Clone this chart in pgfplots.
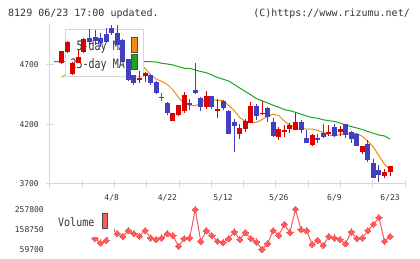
\documentclass[border=0pt]{standalone}
\usepackage{graphicx}
\usepackage{pgfplots}
\pgfplotsset{compat=1.18}
\usepackage{pgfplotstable}
\usepackage{fontspec}
\setmainfont{DejaVu Sans Mono}
\newfontfamily\mono{DejaVu Sans Mono}
\definecolor{candleup}{RGB}{221,0,0}
\definecolor{candledn}{RGB}{64,64,192}
\definecolor{ma5}{RGB}{240,140,20}
\definecolor{ma25}{RGB}{30,165,30}
\definecolor{axgray}{RGB}{215,215,215}
\definecolor{txt}{RGB}{51,51,51}
\definecolor{vol}{RGB}{250,90,90}

\pgfplotstableread{
x o h l c
0 4710 4813 4708 4813
1 4802 4895 4800 4891
2 4618 4720 4612 4715
3 4715 4827 4712 4765
4 4807 4920 4800 4913
14 4570 4648 4548 4590
15 4604 4640 4556 4626
20 4230 4297 4225 4292
21 4277 4365 4269 4361
22 4313 4472 4292 4445
26 4342 4481 4325 4436
28 4313 4409 4250 4328
32 4118 4200 4079 4166
33 4160 4244 4138 4227
34 4213 4389 4210 4353
36 4283 4395 4280 4297
39 4097 4181 4064 4163
40 4135 4194 4093 4148
41 4160 4208 4124 4190
42 4154 4292 4150 4221
45 4026 4121 4020 4110
48 4118 4190 4102 4133
50 4135 4187 4102 4163
54 3968 4020 3947 4018
58 3767 3826 3748 3803
59 3803 3851 3767 3851
}\uptable

\pgfplotstableread{
x o h l c
5 4919 4995 4863 4891
6 4933 4989 4863 4899
7 4919 4964 4846 4882
8 4955 5003 4880 4891
9 5003 5031 4947 4966
10 4966 5031 4860 4863
11 4905 4910 4720 4723
12 4743 4745 4565 4570
13 4612 4615 4528 4548
16 4612 4620 4528 4543
17 4556 4560 4453 4464
18 4431 4459 4397 4420
19 4380 4385 4275 4292
23 4380 4409 4319 4361
24 4487 4710 4451 4459
25 4417 4431 4313 4347
27 4436 4440 4330 4347
29 4395 4400 4319 4338
30 4311 4319 4115 4118
31 4221 4241 3970 4188
35 4353 4367 4236 4269
37 4338 4347 4221 4263
38 4221 4250 4096 4102
43 4219 4236 4129 4156
44 4085 4149 4041 4043
46 4082 4118 4043 4068
47 4124 4205 4082 4096
49 4177 4202 4096 4102
51 4202 4205 4082 4114
52 4135 4146 4047 4074
53 4121 4130 4020 4022
55 4035 4068 3880 3898
56 3878 3905 3746 3754
57 3817 3859 3719 3775
}\downtable

\pgfplotstableread{
x m
0 4595
1 4620
2 4629
3 4654
4 4688
5 4754
6 4805
7 4846
8 4888
9 4921
10 4905
11 4863
12 4805
13 4754
14 4713
15 4667
16 4612
17 4579
18 4558
19 4533
20 4487
21 4424
22 4374
23 4361
24 4353
25 4375
26 4415
27 4407
28 4399
29 4399
30 4357
31 4315
32 4256
33 4223
34 4213
35 4217
36 4240
37 4269
38 4284
39 4273
40 4227
41 4190
42 4173
43 4164
44 4160
45 4160
46 4148
47 4131
48 4110
49 4102
50 4114
51 4124
52 4124
53 4123
54 4099
55 4056
56 4010
57 3934
58 3863
59 3821
}\mafive

\pgfplotstableread{
x m
-1.4 4725
0 4725
5 4725
10 4725
14 4724
15 4723
16 4723
17 4721
18 4710
19 4704
20 4696
21 4682
22 4668
23 4668
24 4654
25 4641
26 4631
27 4612
28 4591
29 4577
30 4562
31 4533
32 4503
33 4474
34 4445
35 4415
36 4397
37 4378
38 4359
39 4342
40 4323
41 4313
42 4300
43 4284
44 4269
45 4256
46 4250
47 4237
48 4230
49 4223
50 4210
51 4194
52 4181
53 4169
54 4156
55 4139
56 4124
57 4110
58 4102
59 4077
}\matwentyfive

\pgfplotstableread{
x v
6 114178
7 90901
8 104273
9 158750
10 137454
11 124082
12 152312
13 137454
14 124082
15 152312
16 115663
17 107739
18 115663
19 137454
20 127549
21 74557
22 112692
23 115663
24 256500
25 99320
26 152312
27 127549
28 99320
29 92882
30 112692
31 145378
32 107739
33 142407
34 112692
35 95853
36 59700
37 87929
38 152312
39 129035
40 183513
41 142407
42 257800
43 157264
44 152312
45 84462
46 104273
47 79510
48 124082
49 115663
50 107739
51 87929
52 145378
53 112692
54 115663
55 152312
56 183513
57 216694
58 99320
59 124082
}\voltable

\pgfplotsset{
  chartbase/.style={
    at={(50pt,75pt)}, anchor=south west, scale only axis,
    width=355pt, height=160pt,
    xmin=-2.083, xmax=61.673, ymin=3700, ymax=5038.9,
  },
}

\begin{document}
\begin{tikzpicture}
\useasboundingbox (0,0) rectangle (420pt,259pt);
\fill[white] (0,0) rectangle (420pt,259pt);

% title texts
\node[anchor=base west, inner sep=0, text=txt, font=\mono\fontsize{10}{12}\selectfont] at (8pt,242.3pt) {8129 06/23 17:00 updated.};
\node[anchor=base east, inner sep=0, text=txt, font=\mono\fontsize{10}{12}\selectfont] at (410pt,242.3pt) {(C)https://www.rizumu.net/};

% main axis with moving averages
\begin{axis}[chartbase,
  separate axis lines,
  axis x line*=bottom, axis y line*=left,
  axis line style={draw=axgray, line width=1pt},
  tick style={draw=axgray, line width=1pt},
  tick align=center, major tick length=8pt,
  xtick={-2.083,3.713,9.509,15.305,21.101,26.897,32.693,38.489,44.285,50.081,55.877,61.673},
  xticklabels={},
  extra x ticks={9,19,29,39,49,59},
  extra x tick labels={4/8,4/22,5/12,5/26,6/9,6/23},
  extra x tick style={major tick length=0pt},
  xticklabel style={anchor=center, yshift=-14pt, inner sep=0pt},
  ytick={3700,4200,4700},
  yticklabels={3700,4200,4700},
  yticklabel style={anchor=east, inner sep=0pt, xshift=-7pt},
  tick label style={font=\mono\fontsize{8}{9}\selectfont, text=txt},
  scaled ticks=false,
]
\addplot[ma5, line width=1pt] table[x=x, y=m] {\mafive};
\addplot[ma25, line width=1pt] table[x=x, y=m] {\matwentyfive};
\end{axis}

% legend of moving averages (under the candles)
\draw[axgray, fill=white, line width=1pt] (65pt,182pt) rectangle (143pt,229pt);
\node[anchor=base east, inner sep=0, text=txt, font=\mono\fontsize{10}{12}\selectfont] at (125pt,208.3pt) {\scalebox{1}[1.3]{5-day MA}};
\node[anchor=base east, inner sep=0, text=txt, font=\mono\fontsize{10}{12}\selectfont] at (125pt,190.7pt) {\scalebox{1}[1.3]{25-day MA}};
\draw[draw=black!70, fill=ma5, line width=0.8pt] (131pt,207pt) rectangle (137pt,222pt);
\draw[draw=black!70, fill=ma25, line width=0.8pt] (131pt,190pt) rectangle (137pt,205pt);

% candles
\begin{axis}[chartbase, axis lines=none, clip=false]
\addplot[draw=none, forget plot, error bars/.cd, y dir=plus, y explicit, error mark=none,
  error bar style={draw=candleup, line width=1pt}]
  table[x=x, y=l, y error plus expr=\thisrow{h}-\thisrow{l}] {\uptable};
\addplot[draw=none, forget plot, error bars/.cd, y dir=plus, y explicit, error mark=none,
  error bar style={draw=candledn, line width=1pt}]
  table[x=x, y=l, y error plus expr=\thisrow{h}-\thisrow{l}] {\downtable};
\addplot[draw=none, forget plot, error bars/.cd, y dir=plus, y explicit, error mark=none,
  error bar style={draw=candleup, line width=5pt}]
  table[x=x, y=o, y error plus expr=\thisrow{c}-\thisrow{o}] {\uptable};
\addplot[draw=none, forget plot, error bars/.cd, y dir=plus, y explicit, error mark=none,
  error bar style={draw=candledn, line width=5pt}]
  table[x=x, y=c, y error plus expr=\thisrow{o}-\thisrow{c}] {\downtable};
\end{axis}

% volume
\begin{axis}[
  at={(50pt,9.7pt)}, anchor=south west, scale only axis,
  width=355pt, height=40pt,
  xmin=-2.083, xmax=61.673, ymin=59700, ymax=257800,
  separate axis lines, axis x line*=bottom, axis y line*=left,
  axis line style={draw=none},
  major tick length=0pt,
  xtick=\empty,
  ytick={59700,158750,257800},
  yticklabels={59700,158750,257800},
  yticklabel style={anchor=east, inner sep=0pt, xshift=-6pt},
  tick label style={font=\mono\fontsize{8}{9}\selectfont, text=txt},
  scaled ticks=false, clip=false,
]
\addplot[vol, line width=1pt, mark=square*, mark size=2.2pt,
  mark options={rotate=45, fill=vol, draw=vol, line width=0pt}] table[x=x, y=v] {\voltable};
\end{axis}

% volume legend
\fill[white] (52pt,22pt) rectangle (114pt,49pt);
\node[anchor=base west, inner sep=0, text=txt, font=\mono\fontsize{10}{12}\selectfont] at (58pt,32.3pt) {\scalebox{1}[1.15]{Volume}};
\draw[draw=black!70, fill=vol, line width=0.8pt] (102pt,31pt) rectangle (107.5pt,46pt);
\end{tikzpicture}
\end{document}
